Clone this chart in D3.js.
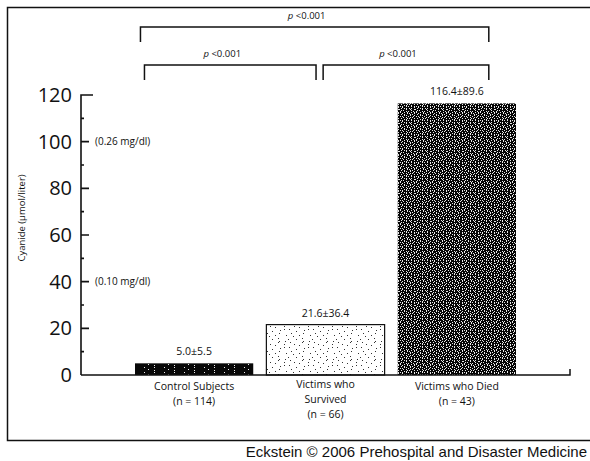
<!DOCTYPE html>
<html>
  <head>
    <meta charset="utf-8">
    <script src="https://cdnjs.cloudflare.com/ajax/libs/d3/7.8.5/d3.min.js"></script>
    <style type="text/css">
      body {
        margin: 0;
        padding: 0;
        background: #fff;
      }
      svg text {
        font-family: 'Open Sans', sans-serif;
        fill: #111;
      }
    </style>
  </head>
  <body>
    <svg id="chart" width="590" height="461"></svg>
    <script>
      /* Data */
      const categories = ["control", "survived", "died"]
      const categoryLabels = [
        ["Control Subjects", "(n = 114)"],
        ["Victims who", "Survived", "(n = 66)"],
        ["Victims who Died", "(n = 43)"]
      ]
      const means = [5.0, 21.6, 116.4]
      const sds = [5.5, 36.4, 89.6]
      const yTicks = [0, 20, 40, 60, 80, 100, 120]
      const refValues = [100, 40]
      const refLabels = ["(0.26 mg/dl)", "(0.10 mg/dl)"]
      const pFrom = [0, 0, 1]
      const pTo = [2, 1, 2]
      const pLevel = [0, 1, 1]
      const pLabels = ["p<0.001", "p<0.001", "p<0.001"]

      const svg = d3.select("#chart")

      const x = d3.scaleBand()
        .domain(categories)
        .range([135, 516])
        .paddingInner(0.1)
        .paddingOuter(0)

      const y = d3.scaleLinear()
        .domain([0, 120])
        .range([375, 95])

      /* fills (texture tiles only) */
      const defs = svg.append("defs")

      const addTile = (id, bg, fg, rows) => {
        const p = defs.append("pattern")
          .attr("id", id)
          .attr("width", rows[0].length).attr("height", rows.length)
          .attr("patternUnits", "userSpaceOnUse")
        p.append("rect").attr("width", rows[0].length).attr("height", rows.length).attr("fill", bg)
        rows.forEach((r, j) => {
          for (let i = 0; i < r.length; i++) {
            if (r[i] === "x") p.append("rect").attr("x", i).attr("y", j).attr("width", 1).attr("height", 1).attr("fill", fg)
          }
        })
      }

      addTile("dark", "#080808", "#eee", [
        "..............x.....",
        "....................",
        "....x.........x.....",
        "....................",
        "........x...........",
      ])
      addTile("light", "#fff", "#333", [
        "..x...........x.........",
        "........................",
        "......x.............x...",
        "...........x............",
        "........................",
        ".x..................x...",
        "................x.......",
        "........x...............",
        "........................",
        "...x...........x........",
        "........................",
        "...........x..........x.",
        ".....x..................",
        "........................",
        "..............x.........",
        "x.......x...............",
        "........................",
        "...............x.....x..",
      ])
      addTile("noise", "#050505", "#e8e8e8", [
        "x...x..x...x..x.",
        "..x....x.x....x.",
        ".x..x.....x.x...",
        "....x.x...x...x.",
        "x.x.....x....x..",
        "...x..x...x.x...",
        ".x.....x.x....x.",
        "....x.x....x....",
        "x.x...x.x..x..x.",
        "..x...........x.",
        ".x..x.x..x.x....",
        "......x...x...xx",
        ".x.x.......x....",
        "x.....x.x....x..",
      ])

      const fills = ["url(#dark)", "url(#light)", "url(#noise)"]

      /* frame */
      svg.append("path")
        .attr("d", "M590,7.5H7.5V440.5H590")
        .attr("fill", "none")
        .attr("stroke", "#111")
        .attr("stroke-width", 1.5)

      /* bars */
      svg.append("g")
        .selectAll("rect")
        .data(categories)
        .join("rect")
        .attr("x", d => x(d))
        .attr("y", (d, i) => y(means[i]))
        .attr("width", x.bandwidth())
        .attr("height", (d, i) => y(0) - y(means[i]))
        .attr("fill", (d, i) => fills[i])
        .attr("stroke", "#111")
        .attr("stroke-width", (d, i) => i === 1 ? 1.2 : 0)

      /* value labels */
      svg.append("g")
        .selectAll("text")
        .data(categories)
        .join("text")
        .attr("x", d => x(d) + x.bandwidth() / 2)
        .attr("y", (d, i) => y(means[i]) - 8)
        .attr("text-anchor", "middle")
        .style("font-size", "10.5px")
        .text((d, i) => means[i].toFixed(1) + "±" + sds[i].toFixed(1))

      /* category labels */
      categories.forEach((c, i) => {
        const t = svg.append("text")
          .attr("x", x(c) + x.bandwidth() / 2)
          .attr("y", i === 1 ? 388 : 390)
          .attr("text-anchor", "middle")
          .style("font-size", "10.5px")
        categoryLabels[i].forEach((line, j) => {
          t.append("tspan")
            .attr("x", x(c) + x.bandwidth() / 2)
            .attr("dy", j === 0 ? 0 : 15)
            .text(line)
        })
      })

      /* y axis with inward ticks */
      const axisX = 81
      let axisPath = "M" + axisX + "," + y(0) + "V" + y(120) + "h12"
      yTicks.filter(d => d > 0 && d < 120).forEach(d => {
        axisPath += "M" + axisX + "," + y(d) + "h8"
      })
      d3.range(10, 120, 20).forEach(d => {
        axisPath += "M" + axisX + "," + y(d) + "h3"
      })
      svg.append("path")
        .attr("d", axisPath)
        .attr("fill", "none")
        .attr("stroke", "#111")
        .attr("stroke-width", 1.6)

      svg.append("g")
        .selectAll("text")
        .data(yTicks)
        .join("text")
        .attr("x", 72)
        .attr("y", d => y(d) + 7)
        .attr("text-anchor", "end")
        .style("font-size", "20px")
        .text(d => d)

      /* x baseline */
      svg.append("path")
        .attr("d", "M" + axisX + "," + y(0) + "H570V" + (y(0) - 6))
        .attr("fill", "none")
        .attr("stroke", "#111")
        .attr("stroke-width", 1.5)

      /* reference labels */
      svg.append("g")
        .selectAll("text")
        .data(refValues)
        .join("text")
        .attr("x", 95)
        .attr("y", d => y(d) + 3.5)
        .style("font-size", "10px")
        .text((d, i) => refLabels[i])

      /* y title */
      svg.append("text")
        .attr("transform", "translate(25,218) rotate(-90)")
        .attr("text-anchor", "middle")
        .style("font-size", "9.5px")
        .text("Cyanide (µmol/liter)")

      /* significance brackets */
      const bw = x.bandwidth()
      const leftEdge = i => i === 0 ? x(categories[0]) + bw * 0.08 : x(categories[1]) + bw * 0.48
      const rightEdge = i => i === 2 ? x(categories[2]) + bw * 0.77 : x(categories[1]) + bw * 0.42
      const levelY = [27, 65]

      pLabels.forEach((lab, k) => {
        const x0 = leftEdge(pFrom[k]) - (pLevel[k] === 0 ? 4 : 0)
        const x1 = rightEdge(pTo[k])
        const ly = levelY[pLevel[k]]
        svg.append("path")
          .attr("d", "M" + x0 + "," + (ly + 15) + "V" + ly + "H" + x1 + "V" + (ly + 15))
          .attr("fill", "none")
          .attr("stroke", "#111")
          .attr("stroke-width", 1.5)
        const t = svg.append("text")
          .attr("x", (x0 + x1) / 2 - 8)
          .attr("y", ly - 8)
          .attr("text-anchor", "middle")
          .style("font-size", "9.5px")
        t.append("tspan").style("font-style", "italic").text(lab.slice(0, 1))
        t.append("tspan").text(" " + lab.slice(1))
      })

      /* source */
      svg.append("text")
        .attr("x", 587)
        .attr("y", 457)
        .attr("text-anchor", "end")
        .style("font-family", "'Liberation Sans', Arial, sans-serif")
        .style("font-size", "15px")
        .text("Eckstein © 2006 Prehospital and Disaster Medicine")
    </script>
  </body>
</html>
